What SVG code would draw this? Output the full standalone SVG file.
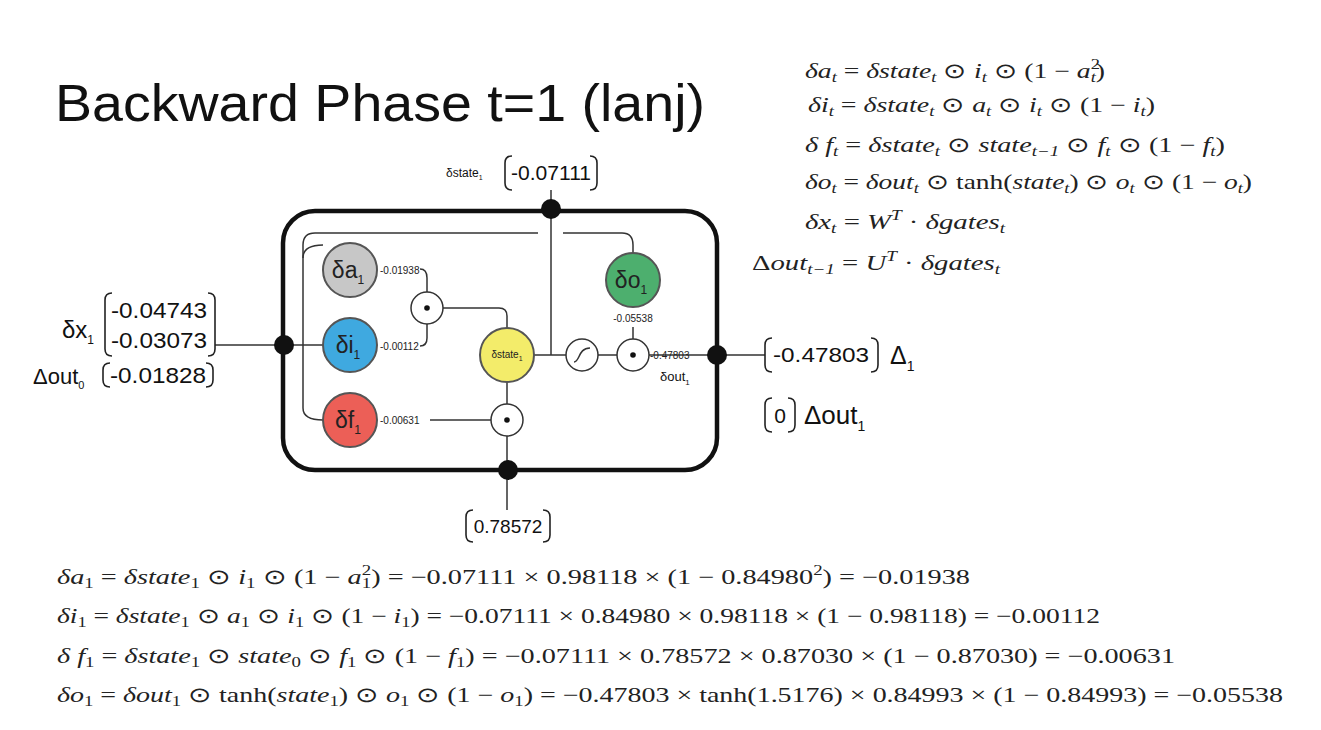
<svg xmlns="http://www.w3.org/2000/svg" width="1321" height="730" viewBox="0 0 1321 730">
<style>
.t{font-family:"Liberation Sans",Arial,sans-serif;fill:#111}
.m{font-family:"Liberation Serif","Times New Roman",serif;font-size:21px;fill:#222}
.i{font-style:italic}
.sm{font-family:"Liberation Sans",Arial,sans-serif;font-size:10px;fill:#222}
.ln{fill:none;stroke:#333;stroke-width:1.5}
.br{fill:none;stroke:#222;stroke-width:1.6}
.op{fill:#fff;stroke:#333;stroke-width:1.5}
.gate{stroke:#555;stroke-width:2}
.nl{font-family:"Liberation Sans",Arial,sans-serif;font-size:23px;fill:#222;text-anchor:middle}
</style>
<rect width="1321" height="730" fill="#fff"/>
<text class="t" x="55" y="121" font-size="52" textLength="650" lengthAdjust="spacingAndGlyphs">Backward Phase t=1 (lanj)</text>

<g id="connectors">
<rect x="283" y="211" width="434" height="259" rx="32" fill="none" stroke="#111" stroke-width="4.5"/>
<path class="ln" d="M538,233 H315 Q303,233 303,245 V408 Q303,420 323,420"/>
<path class="ln" d="M303,258 Q303,245 323,245"/>
<path class="ln" d="M563,233 H622 Q633,233 633,245 V253"/>
<path class="ln" d="M215,345 H323"/>
<path class="ln" d="M551,190 V355"/>
<path class="ln" d="M534,355 H566 M598,355 H617 M649,355 H717 M717,355 H765"/>
<path class="ln" d="M633,327 V339"/>
<path class="ln" d="M420,269 Q427,269 427,278 V292 M427,324 V338 Q427,346 420,346"/>
<path class="ln" d="M443,308 H499 Q507,308 507,316 V328"/>
<path class="ln" d="M507,382 V404 M507,436 V510"/>
<path class="ln" d="M430,420 H491"/>
<circle cx="551" cy="209" r="10" fill="#111"/>
<circle cx="284" cy="345" r="10" fill="#111"/>
<circle cx="717" cy="355" r="10" fill="#111"/>
<circle cx="508" cy="470" r="10" fill="#111"/>
</g>

<g id="ops">
<circle class="op" cx="427" cy="308" r="16"/><circle cx="427" cy="308" r="2.8" fill="#111"/>
<circle class="op" cx="507" cy="420" r="16"/><circle cx="507" cy="420" r="2.8" fill="#111"/>
<circle class="op" cx="633" cy="355" r="16"/><circle cx="633" cy="355" r="2.8" fill="#111"/>
<circle class="op" cx="582" cy="355" r="16"/>
<path class="ln" d="M574,362 C580,362 578,348 590,348"/>
</g>

<g id="da"><circle class="gate" cx="350" cy="270" r="27" fill="#c7c7c7"/><text class="nl" x="348" y="278">δa<tspan font-size="12" dy="6">1</tspan></text></g>
<g id="di"><circle class="gate" cx="350" cy="345" r="27" fill="#3fa9e0"/><text class="nl" x="348" y="353">δi<tspan font-size="12" dy="6">1</tspan></text></g>
<g id="df"><circle class="gate" cx="350" cy="420" r="27" fill="#ec5f57"/><text class="nl" x="348" y="428">δf<tspan font-size="12" dy="6">1</tspan></text></g>
<g id="do"><circle class="gate" cx="633" cy="280" r="27" fill="#4daf6e"/><text class="nl" x="631" y="288">δo<tspan font-size="12" dy="6">1</tspan></text></g>
<g id="dstate"><circle class="gate" cx="507" cy="355" r="27" fill="#f3ec6a"/><text class="sm" x="507" y="358" text-anchor="middle">δstate<tspan font-size="7" dy="3">1</tspan></text></g>

<g id="labels">
<text class="sm" x="380" y="274">-0.01938</text>
<text class="sm" x="380" y="350">-0.00112</text>
<text class="sm" x="380" y="424">-0.00631</text>
<text class="sm" x="633" y="322" text-anchor="middle">-0.05538</text>
<text class="sm" x="650" y="359">-0.47803</text>
<text class="t" x="660" y="381" font-size="13">δout<tspan font-size="8" dy="4">1</tspan></text>
</g>

<g id="top-state">
<text class="t" x="446" y="177" font-size="12">δstate<tspan font-size="7" dy="3">1</tspan></text>
<path class="br" d="M512,156 Q505,156 505,163 V183 Q505,190 512,190 M590,156 Q597,156 597,163 V183 Q597,190 590,190"/>
<text class="t" x="551" y="180" font-size="20" text-anchor="middle" textLength="80" lengthAdjust="spacingAndGlyphs">-0.07111</text>
</g>
<g id="dx">
<text class="t" x="62" y="338" font-size="24">δx<tspan font-size="12" dy="6">1</tspan></text>
<path class="br" d="M112,293 Q105,293 105,300 V349 Q105,356 112,356 M208,293 Q215,293 215,300 V349 Q215,356 208,356"/>
<text class="t" x="159" y="318" font-size="22" text-anchor="middle" textLength="96" lengthAdjust="spacingAndGlyphs">-0.04743</text>
<text class="t" x="159" y="348" font-size="22" text-anchor="middle" textLength="96" lengthAdjust="spacingAndGlyphs">-0.03073</text>
<text class="t" x="33" y="384" font-size="22">Δout<tspan font-size="11" dy="5">0</tspan></text>
<path class="br" d="M110,363 Q103,363 103,370 V380 Q103,387 110,387 M206,363 Q213,363 213,370 V380 Q213,387 206,387"/>
<text class="t" x="158" y="383" font-size="22" text-anchor="middle" textLength="96" lengthAdjust="spacingAndGlyphs">-0.01828</text>
</g>
<g id="out">
<path class="br" d="M772,338 Q765,338 765,345 V365 Q765,372 772,372 M871,338 Q878,338 878,345 V365 Q878,372 871,372"/>
<text class="t" x="821" y="362" font-size="21" text-anchor="middle" textLength="96" lengthAdjust="spacingAndGlyphs">-0.47803</text>
<text class="t" x="890" y="364" font-size="25">Δ<tspan font-size="14" dy="7">1</tspan></text>
<path class="br" d="M772,398 Q765,398 765,405 V425 Q765,432 772,432 M788,398 Q795,398 795,405 V425 Q795,432 788,432"/>
<text class="t" x="780" y="423" font-size="21" text-anchor="middle">0</text>
<text class="t" x="804" y="424" font-size="26">Δout<tspan font-size="14" dy="7">1</tspan></text>
</g>
<g id="bottom-state">
<path class="br" d="M473,510 Q466,510 466,517 V535 Q466,542 473,542 M543,510 Q550,510 550,517 V535 Q550,542 543,542"/>
<text class="t" x="508" y="533" font-size="19" text-anchor="middle">0.78572</text>
</g>

<g id="eq-general">
<text class="m" x="805" y="78" textLength="300" lengthAdjust="spacingAndGlyphs"><tspan class="i">δa</tspan><tspan class="i" font-size="14" dy="4">t</tspan><tspan dy="-4"> = </tspan><tspan class="i">δstate</tspan><tspan class="i" font-size="14" dy="4">t</tspan><tspan dy="-4"> ⊙ </tspan><tspan class="i">i</tspan><tspan class="i" font-size="14" dy="4">t</tspan><tspan dy="-4"> ⊙ (1 − </tspan><tspan class="i">a</tspan><tspan font-size="14" dy="-9">2</tspan><tspan class="i" font-size="14" dx="-7" dy="13">t</tspan><tspan dy="-4">)</tspan></text>
<text class="m" x="808" y="112" textLength="347" lengthAdjust="spacingAndGlyphs"><tspan class="i">δi</tspan><tspan class="i" font-size="14" dy="4">t</tspan><tspan dy="-4"> = </tspan><tspan class="i">δstate</tspan><tspan class="i" font-size="14" dy="4">t</tspan><tspan dy="-4"> ⊙ </tspan><tspan class="i">a</tspan><tspan class="i" font-size="14" dy="4">t</tspan><tspan dy="-4"> ⊙ </tspan><tspan class="i">i</tspan><tspan class="i" font-size="14" dy="4">t</tspan><tspan dy="-4"> ⊙ (1 − </tspan><tspan class="i">i</tspan><tspan class="i" font-size="14" dy="4">t</tspan><tspan dy="-4">)</tspan></text>
<text class="m" x="805" y="152" textLength="420" lengthAdjust="spacingAndGlyphs"><tspan class="i">δ f</tspan><tspan class="i" font-size="14" dy="4">t</tspan><tspan dy="-4"> = </tspan><tspan class="i">δstate</tspan><tspan class="i" font-size="14" dy="4">t</tspan><tspan dy="-4"> ⊙ </tspan><tspan class="i">state</tspan><tspan class="i" font-size="14" dy="4">t−1</tspan><tspan dy="-4"> ⊙ </tspan><tspan class="i">f</tspan><tspan class="i" font-size="14" dy="4">t</tspan><tspan dy="-4"> ⊙ (1 − </tspan><tspan class="i">f</tspan><tspan class="i" font-size="14" dy="4">t</tspan><tspan dy="-4">)</tspan></text>
<text class="m" x="805" y="189" textLength="447" lengthAdjust="spacingAndGlyphs"><tspan class="i">δo</tspan><tspan class="i" font-size="14" dy="4">t</tspan><tspan dy="-4"> = </tspan><tspan class="i">δout</tspan><tspan class="i" font-size="14" dy="4">t</tspan><tspan dy="-4"> ⊙ tanh(</tspan><tspan class="i">state</tspan><tspan class="i" font-size="14" dy="4">t</tspan><tspan dy="-4">) ⊙ </tspan><tspan class="i">o</tspan><tspan class="i" font-size="14" dy="4">t</tspan><tspan dy="-4"> ⊙ (1 − </tspan><tspan class="i">o</tspan><tspan class="i" font-size="14" dy="4">t</tspan><tspan dy="-4">)</tspan></text>
<text class="m" x="805" y="229" textLength="200" lengthAdjust="spacingAndGlyphs"><tspan class="i">δx</tspan><tspan class="i" font-size="14" dy="4">t</tspan><tspan dy="-4"> = </tspan><tspan class="i">W</tspan><tspan class="i" font-size="14" dy="-9">T</tspan><tspan dy="9"> · </tspan><tspan class="i">δgates</tspan><tspan class="i" font-size="14" dy="4">t</tspan></text>
<text class="m" x="752" y="270" textLength="248" lengthAdjust="spacingAndGlyphs"><tspan>Δ</tspan><tspan class="i">out</tspan><tspan class="i" font-size="14" dy="4">t−1</tspan><tspan dy="-4"> = </tspan><tspan class="i">U</tspan><tspan class="i" font-size="14" dy="-9">T</tspan><tspan dy="9"> · </tspan><tspan class="i">δgates</tspan><tspan class="i" font-size="14" dy="4">t</tspan></text>
</g>

<g id="eq-values">
<text class="m" x="57" y="584" textLength="913" lengthAdjust="spacingAndGlyphs"><tspan class="i">δa</tspan><tspan font-size="14" dy="4">1</tspan><tspan dy="-4"> = </tspan><tspan class="i">δstate</tspan><tspan font-size="14" dy="4">1</tspan><tspan dy="-4"> ⊙ </tspan><tspan class="i">i</tspan><tspan font-size="14" dy="4">1</tspan><tspan dy="-4"> ⊙ (1 − </tspan><tspan class="i">a</tspan><tspan font-size="14" dy="-9">2</tspan><tspan font-size="14" dx="-7" dy="13">1</tspan><tspan dy="-4">) = −0.07111 × 0.98118 × (1 − 0.84980</tspan><tspan font-size="14" dy="-9">2</tspan><tspan dy="9">) = −0.01938</tspan></text>
<text class="m" x="57" y="623" textLength="1043" lengthAdjust="spacingAndGlyphs"><tspan class="i">δi</tspan><tspan font-size="14" dy="4">1</tspan><tspan dy="-4"> = </tspan><tspan class="i">δstate</tspan><tspan font-size="14" dy="4">1</tspan><tspan dy="-4"> ⊙ </tspan><tspan class="i">a</tspan><tspan font-size="14" dy="4">1</tspan><tspan dy="-4"> ⊙ </tspan><tspan class="i">i</tspan><tspan font-size="14" dy="4">1</tspan><tspan dy="-4"> ⊙ (1 − </tspan><tspan class="i">i</tspan><tspan font-size="14" dy="4">1</tspan><tspan dy="-4">) = −0.07111 × 0.84980 × 0.98118 × (1 − 0.98118) = −0.00112</tspan></text>
<text class="m" x="57" y="663" textLength="1118" lengthAdjust="spacingAndGlyphs"><tspan class="i">δ f</tspan><tspan font-size="14" dy="4">1</tspan><tspan dy="-4"> = </tspan><tspan class="i">δstate</tspan><tspan font-size="14" dy="4">1</tspan><tspan dy="-4"> ⊙ </tspan><tspan class="i">state</tspan><tspan font-size="14" dy="4">0</tspan><tspan dy="-4"> ⊙ </tspan><tspan class="i">f</tspan><tspan font-size="14" dy="4">1</tspan><tspan dy="-4"> ⊙ (1 − </tspan><tspan class="i">f</tspan><tspan font-size="14" dy="4">1</tspan><tspan dy="-4">) = −0.07111 × 0.78572 × 0.87030 × (1 − 0.87030) = −0.00631</tspan></text>
<text class="m" x="57" y="702" textLength="1226" lengthAdjust="spacingAndGlyphs"><tspan class="i">δo</tspan><tspan font-size="14" dy="4">1</tspan><tspan dy="-4"> = </tspan><tspan class="i">δout</tspan><tspan font-size="14" dy="4">1</tspan><tspan dy="-4"> ⊙ tanh(</tspan><tspan class="i">state</tspan><tspan font-size="14" dy="4">1</tspan><tspan dy="-4">) ⊙ </tspan><tspan class="i">o</tspan><tspan font-size="14" dy="4">1</tspan><tspan dy="-4"> ⊙ (1 − </tspan><tspan class="i">o</tspan><tspan font-size="14" dy="4">1</tspan><tspan dy="-4">) = −0.47803 × tanh(1.5176) × 0.84993 × (1 − 0.84993) = −0.05538</tspan></text>
</g>
</svg>
